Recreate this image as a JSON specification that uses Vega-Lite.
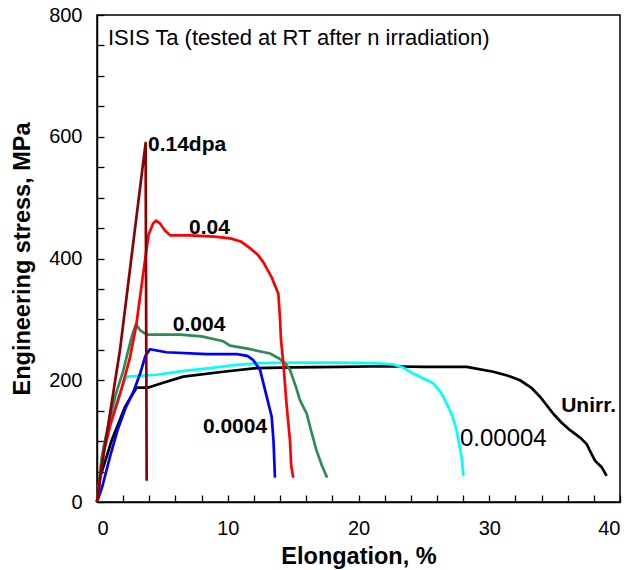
{
  "$schema": "https://vega.github.io/schema/vega-lite/v6.json",
  "autosize": "none",
  "width": 523,
  "height": 487,
  "padding": {"left": 97, "top": 15, "right": 13, "bottom": 68},
  "background": "white",
  "config": {
    "view": {"stroke": "black", "strokeWidth": 1.5},
    "font": "Liberation Sans",
    "axis": {"grid": false, "domainColor": "black", "domainWidth": 1.5, "labelColor": "black", "titleColor": "black", "labelFont": "Liberation Sans", "titleFont": "Liberation Sans", "labelFontSize": 20, "titleFontWeight": "bold"}
  },
  "datasets": {
    "curves": [
      {"s": "Unirr.", "o": 0, "x": 0, "y": 0}, {"s": "Unirr.", "o": 1, "x": 0.23, "y": 40}, {"s": "Unirr.", "o": 2, "x": 1.12, "y": 101}, {"s": "Unirr.", "o": 3, "x": 2.14, "y": 156}, {"s": "Unirr.", "o": 4, "x": 3.03, "y": 188}, {"s": "Unirr.", "o": 5, "x": 3.93, "y": 188}, {"s": "Unirr.", "o": 6, "x": 4.94, "y": 195}, {"s": "Unirr.", "o": 7, "x": 6.6, "y": 206}, {"s": "Unirr.", "o": 8, "x": 9.66, "y": 214}, {"s": "Unirr.", "o": 9, "x": 12.21, "y": 220}, {"s": "Unirr.", "o": 10, "x": 15, "y": 221}, {"s": "Unirr.", "o": 11, "x": 18.6, "y": 222}, {"s": "Unirr.", "o": 12, "x": 22, "y": 223}, {"s": "Unirr.", "o": 13, "x": 25, "y": 222}, {"s": "Unirr.", "o": 14, "x": 28.27, "y": 222}, {"s": "Unirr.", "o": 15, "x": 30.31, "y": 214}, {"s": "Unirr.", "o": 16, "x": 31.5, "y": 207}, {"s": "Unirr.", "o": 17, "x": 32.35, "y": 200}, {"s": "Unirr.", "o": 18, "x": 33.2, "y": 188}, {"s": "Unirr.", "o": 19, "x": 33.88, "y": 173}, {"s": "Unirr.", "o": 20, "x": 34.9, "y": 145}, {"s": "Unirr.", "o": 21, "x": 35.5, "y": 131}, {"s": "Unirr.", "o": 22, "x": 36.18, "y": 118}, {"s": "Unirr.", "o": 23, "x": 37, "y": 105}, {"s": "Unirr.", "o": 24, "x": 37.45, "y": 95}, {"s": "Unirr.", "o": 25, "x": 37.8, "y": 80}, {"s": "Unirr.", "o": 26, "x": 38.09, "y": 68}, {"s": "Unirr.", "o": 27, "x": 38.6, "y": 57}, {"s": "Unirr.", "o": 28, "x": 38.98, "y": 43},
      {"s": "0.00004", "o": 0, "x": 0, "y": 0}, {"s": "0.00004", "o": 1, "x": 0.1, "y": 13}, {"s": "0.00004", "o": 2, "x": 0.3, "y": 60}, {"s": "0.00004", "o": 3, "x": 0.61, "y": 101}, {"s": "0.00004", "o": 4, "x": 1.0, "y": 130}, {"s": "0.00004", "o": 5, "x": 1.63, "y": 173}, {"s": "0.00004", "o": 6, "x": 2.27, "y": 206}, {"s": "0.00004", "o": 7, "x": 3.16, "y": 207}, {"s": "0.00004", "o": 8, "x": 4.56, "y": 209}, {"s": "0.00004", "o": 9, "x": 6.5, "y": 215}, {"s": "0.00004", "o": 10, "x": 8.64, "y": 220}, {"s": "0.00004", "o": 11, "x": 10.5, "y": 225}, {"s": "0.00004", "o": 12, "x": 12.21, "y": 228}, {"s": "0.00004", "o": 13, "x": 15, "y": 229}, {"s": "0.00004", "o": 14, "x": 18.58, "y": 229}, {"s": "0.00004", "o": 15, "x": 21, "y": 228}, {"s": "0.00004", "o": 16, "x": 22.66, "y": 226}, {"s": "0.00004", "o": 17, "x": 23.5, "y": 220}, {"s": "0.00004", "o": 18, "x": 24.19, "y": 211}, {"s": "0.00004", "o": 19, "x": 25.72, "y": 195}, {"s": "0.00004", "o": 20, "x": 26.3, "y": 180}, {"s": "0.00004", "o": 21, "x": 26.74, "y": 162}, {"s": "0.00004", "o": 22, "x": 27.2, "y": 140}, {"s": "0.00004", "o": 23, "x": 27.5, "y": 118}, {"s": "0.00004", "o": 24, "x": 27.89, "y": 73}, {"s": "0.00004", "o": 25, "x": 28.02, "y": 43},
      {"s": "0.0004", "o": 0, "x": 0, "y": 0}, {"s": "0.0004", "o": 1, "x": 0.4, "y": 25}, {"s": "0.0004", "o": 2, "x": 1.0, "y": 75}, {"s": "0.0004", "o": 3, "x": 1.6, "y": 120}, {"s": "0.0004", "o": 4, "x": 2.2, "y": 155}, {"s": "0.0004", "o": 5, "x": 2.8, "y": 182}, {"s": "0.0004", "o": 6, "x": 3.3, "y": 211}, {"s": "0.0004", "o": 7, "x": 3.7, "y": 240}, {"s": "0.0004", "o": 8, "x": 4.05, "y": 251}, {"s": "0.0004", "o": 9, "x": 5.3, "y": 246}, {"s": "0.0004", "o": 10, "x": 8.4, "y": 243}, {"s": "0.0004", "o": 11, "x": 10.7, "y": 243}, {"s": "0.0004", "o": 12, "x": 11.5, "y": 240}, {"s": "0.0004", "o": 13, "x": 11.96, "y": 233}, {"s": "0.0004", "o": 14, "x": 12.47, "y": 217}, {"s": "0.0004", "o": 15, "x": 12.98, "y": 173}, {"s": "0.0004", "o": 16, "x": 13.36, "y": 140}, {"s": "0.0004", "o": 17, "x": 13.5, "y": 100}, {"s": "0.0004", "o": 18, "x": 13.61, "y": 40},
      {"s": "0.004", "o": 0, "x": 0, "y": 0}, {"s": "0.004", "o": 1, "x": 0.36, "y": 73}, {"s": "0.004", "o": 2, "x": 0.61, "y": 101}, {"s": "0.004", "o": 3, "x": 1.38, "y": 173}, {"s": "0.004", "o": 4, "x": 2.0, "y": 215}, {"s": "0.004", "o": 5, "x": 2.4, "y": 250}, {"s": "0.004", "o": 6, "x": 2.7, "y": 275}, {"s": "0.004", "o": 7, "x": 2.98, "y": 292}, {"s": "0.004", "o": 8, "x": 3.3, "y": 282}, {"s": "0.004", "o": 9, "x": 3.8, "y": 275}, {"s": "0.004", "o": 10, "x": 6.35, "y": 275}, {"s": "0.004", "o": 11, "x": 8, "y": 272}, {"s": "0.004", "o": 12, "x": 9.66, "y": 264}, {"s": "0.004", "o": 13, "x": 10.17, "y": 257}, {"s": "0.004", "o": 14, "x": 11.5, "y": 252}, {"s": "0.004", "o": 15, "x": 13.23, "y": 244}, {"s": "0.004", "o": 16, "x": 14.0, "y": 235}, {"s": "0.004", "o": 17, "x": 14.5, "y": 225}, {"s": "0.004", "o": 18, "x": 14.76, "y": 217}, {"s": "0.004", "o": 19, "x": 15.2, "y": 190}, {"s": "0.004", "o": 20, "x": 15.53, "y": 167}, {"s": "0.004", "o": 21, "x": 16.04, "y": 145}, {"s": "0.004", "o": 22, "x": 16.4, "y": 115}, {"s": "0.004", "o": 23, "x": 16.8, "y": 84}, {"s": "0.004", "o": 24, "x": 17.2, "y": 60}, {"s": "0.004", "o": 25, "x": 17.6, "y": 40},
      {"s": "0.04", "o": 0, "x": 0, "y": 0}, {"s": "0.04", "o": 1, "x": 0.5, "y": 80}, {"s": "0.04", "o": 2, "x": 1.0, "y": 125}, {"s": "0.04", "o": 3, "x": 1.8, "y": 180}, {"s": "0.04", "o": 4, "x": 2.5, "y": 235}, {"s": "0.04", "o": 5, "x": 3.0, "y": 290}, {"s": "0.04", "o": 6, "x": 3.5, "y": 370}, {"s": "0.04", "o": 7, "x": 3.95, "y": 440}, {"s": "0.04", "o": 8, "x": 4.3, "y": 458}, {"s": "0.04", "o": 9, "x": 4.51, "y": 462}, {"s": "0.04", "o": 10, "x": 4.8, "y": 458}, {"s": "0.04", "o": 11, "x": 5.2, "y": 446}, {"s": "0.04", "o": 12, "x": 5.6, "y": 438}, {"s": "0.04", "o": 13, "x": 7.1, "y": 438}, {"s": "0.04", "o": 14, "x": 9, "y": 436}, {"s": "0.04", "o": 15, "x": 10.2, "y": 433}, {"s": "0.04", "o": 16, "x": 11.0, "y": 428}, {"s": "0.04", "o": 17, "x": 11.7, "y": 417}, {"s": "0.04", "o": 18, "x": 12.3, "y": 406}, {"s": "0.04", "o": 19, "x": 12.72, "y": 394}, {"s": "0.04", "o": 20, "x": 13.36, "y": 369}, {"s": "0.04", "o": 21, "x": 13.87, "y": 342}, {"s": "0.04", "o": 22, "x": 14.0, "y": 300}, {"s": "0.04", "o": 23, "x": 14.07, "y": 267}, {"s": "0.04", "o": 24, "x": 14.25, "y": 228}, {"s": "0.04", "o": 25, "x": 14.5, "y": 160}, {"s": "0.04", "o": 26, "x": 14.76, "y": 101}, {"s": "0.04", "o": 27, "x": 14.85, "y": 60}, {"s": "0.04", "o": 28, "x": 15.01, "y": 40},
      {"s": "0.14dpa", "o": 0, "x": 0, "y": 0}, {"s": "0.14dpa", "o": 1, "x": 0.3, "y": 50}, {"s": "0.14dpa", "o": 2, "x": 1.76, "y": 250}, {"s": "0.14dpa", "o": 3, "x": 3.72, "y": 590}, {"s": "0.14dpa", "o": 4, "x": 3.76, "y": 300}, {"s": "0.14dpa", "o": 5, "x": 3.8, "y": 35}
    ],
    "boldLabels": [
      {"t": "0.14dpa", "x": 3.9, "y": 586},
      {"t": "0.04", "x": 7.04, "y": 450},
      {"t": "0.004", "x": 5.8, "y": 290},
      {"t": "0.0004", "x": 8.1, "y": 123},
      {"t": "Unirr.", "x": 35.5, "y": 157}
    ],
    "plainLabels": [
      {"t": "0.00004", "x": 27.76, "y": 103}
    ],
    "note": [
      {"t": "ISIS Ta (tested at RT after n irradiation)", "x": 0.84, "y": 762}
    ]
  },
  "layer": [
    {
      "data": {"name": "curves"},
      "mark": {"type": "line", "strokeWidth": 2.7, "strokeJoin": "round"},
      "encoding": {
        "x": {"field": "x", "type": "quantitative", "scale": {"domain": [0, 40], "nice": false},
          "axis": {"title": "Elongation, %", "titleFontSize": 23.5, "tickCount": 20,
            "labelExpr": "datum.value % 10 === 0 ? datum.label : ''",
            "labelOverlap": false,
            "ticks": true, "tickColor": "black", "tickWidth": 1.3, "tickSize": -7,
            "encode": {"ticks": {"update": {"y2": {"signal": "datum.value % 10 === 0 ? -9 : -6"}}}},
            "labelPadding": 23, "titlePadding": 6}},
        "y": {"field": "y", "type": "quantitative", "scale": {"domain": [0, 800], "nice": false},
          "axis": {"title": "Engineering stress, MPa", "titleFontSize": 23.5, "tickCount": 16,
            "labelExpr": "datum.value % 200 === 0 ? datum.label : ''",
            "labelOverlap": false,
            "ticks": true, "tickColor": "black", "tickWidth": 1.3, "tickSize": -7,
            "encode": {"ticks": {"update": {"x2": {"signal": "datum.value % 200 === 0 ? 9 : 6"}}}},
            "labelPadding": 22, "titlePadding": 14}},
        "color": {"field": "s", "type": "nominal", "legend": null,
          "scale": {"domain": ["Unirr.", "0.00004", "0.0004", "0.004", "0.04", "0.14dpa"],
            "range": ["#000000", "#00FFFF", "#0000FF", "#2E8B57", "#FF0000", "#8B0000"]}},
        "order": {"field": "o", "type": "quantitative"}
      }
    },
    {
      "data": {"name": "boldLabels"},
      "mark": {"type": "text", "align": "left", "baseline": "middle", "fontWeight": "bold", "fontSize": 21, "font": "Liberation Sans", "color": "black"},
      "encoding": {
        "x": {"field": "x", "type": "quantitative"},
        "y": {"field": "y", "type": "quantitative"},
        "text": {"field": "t"}
      }
    },
    {
      "data": {"name": "plainLabels"},
      "mark": {"type": "text", "align": "left", "baseline": "middle", "fontSize": 24, "font": "Liberation Sans", "color": "black"},
      "encoding": {
        "x": {"field": "x", "type": "quantitative"},
        "y": {"field": "y", "type": "quantitative"},
        "text": {"field": "t"}
      }
    },
    {
      "data": {"name": "note"},
      "mark": {"type": "text", "align": "left", "baseline": "middle", "fontSize": 22, "font": "Liberation Sans", "color": "black"},
      "encoding": {
        "x": {"field": "x", "type": "quantitative"},
        "y": {"field": "y", "type": "quantitative"},
        "text": {"field": "t"}
      }
    }
  ]
}
